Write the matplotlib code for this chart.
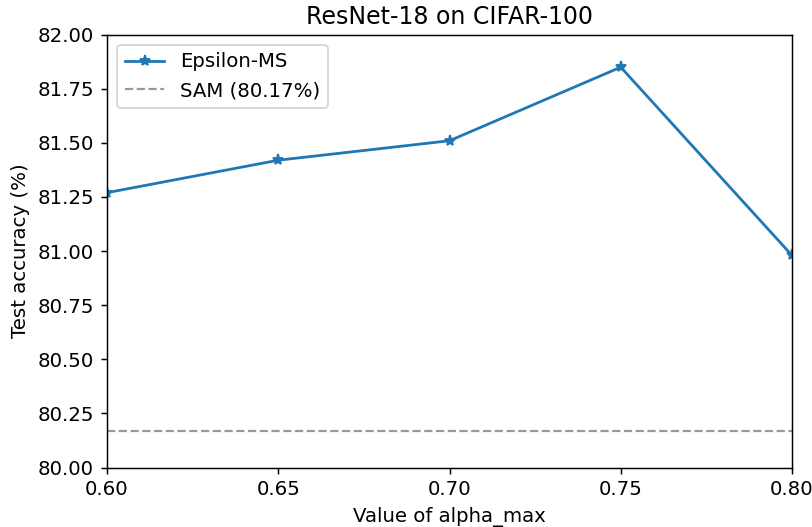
import matplotlib
matplotlib.use('Agg')
import matplotlib.pyplot as plt

# valores
alpha_max = [0.60, 0.65, 0.70, 0.75, 0.80]
acc_eps = [81.27, 81.42, 81.51, 81.85, 80.98]
acc_sam = 80.17

plt.rcParams['font.size'] = 10.7
plt.rcParams['axes.titlesize'] = 12.8

dpi = 133
fig = plt.figure(figsize=(812 / dpi, 527 / dpi), dpi=dpi)
W, H = 812, 527
ax = fig.add_axes([107 / W, (H - 467.5) / H, (792 - 107) / W, (467.5 - 34.7) / H])

ax.plot(alpha_max, acc_eps, marker='*', label='Epsilon-MS')
ax.axhline(acc_sam, color='gray', alpha=0.8, linewidth=1.2, linestyle='--',
           label='SAM (80.17%)')

ax.set_xlim(0.6, 0.8)
ax.set_ylim(80.0, 82.0)
ax.set_xticks(alpha_max)
ax.set_xticklabels(['%.2f' % v for v in alpha_max])
ax.set_yticks([80 + 0.25 * i for i in range(9)])
ax.set_yticklabels(['%.2f' % (80 + 0.25 * i) for i in range(9)])

ax.set_title('ResNet-18 on CIFAR-100')
ax.set_xlabel('Value of alpha_max')
ax.set_ylabel('Test accuracy (%)')
ax.legend(loc='upper left')

fig.savefig('out.png', dpi=dpi)
